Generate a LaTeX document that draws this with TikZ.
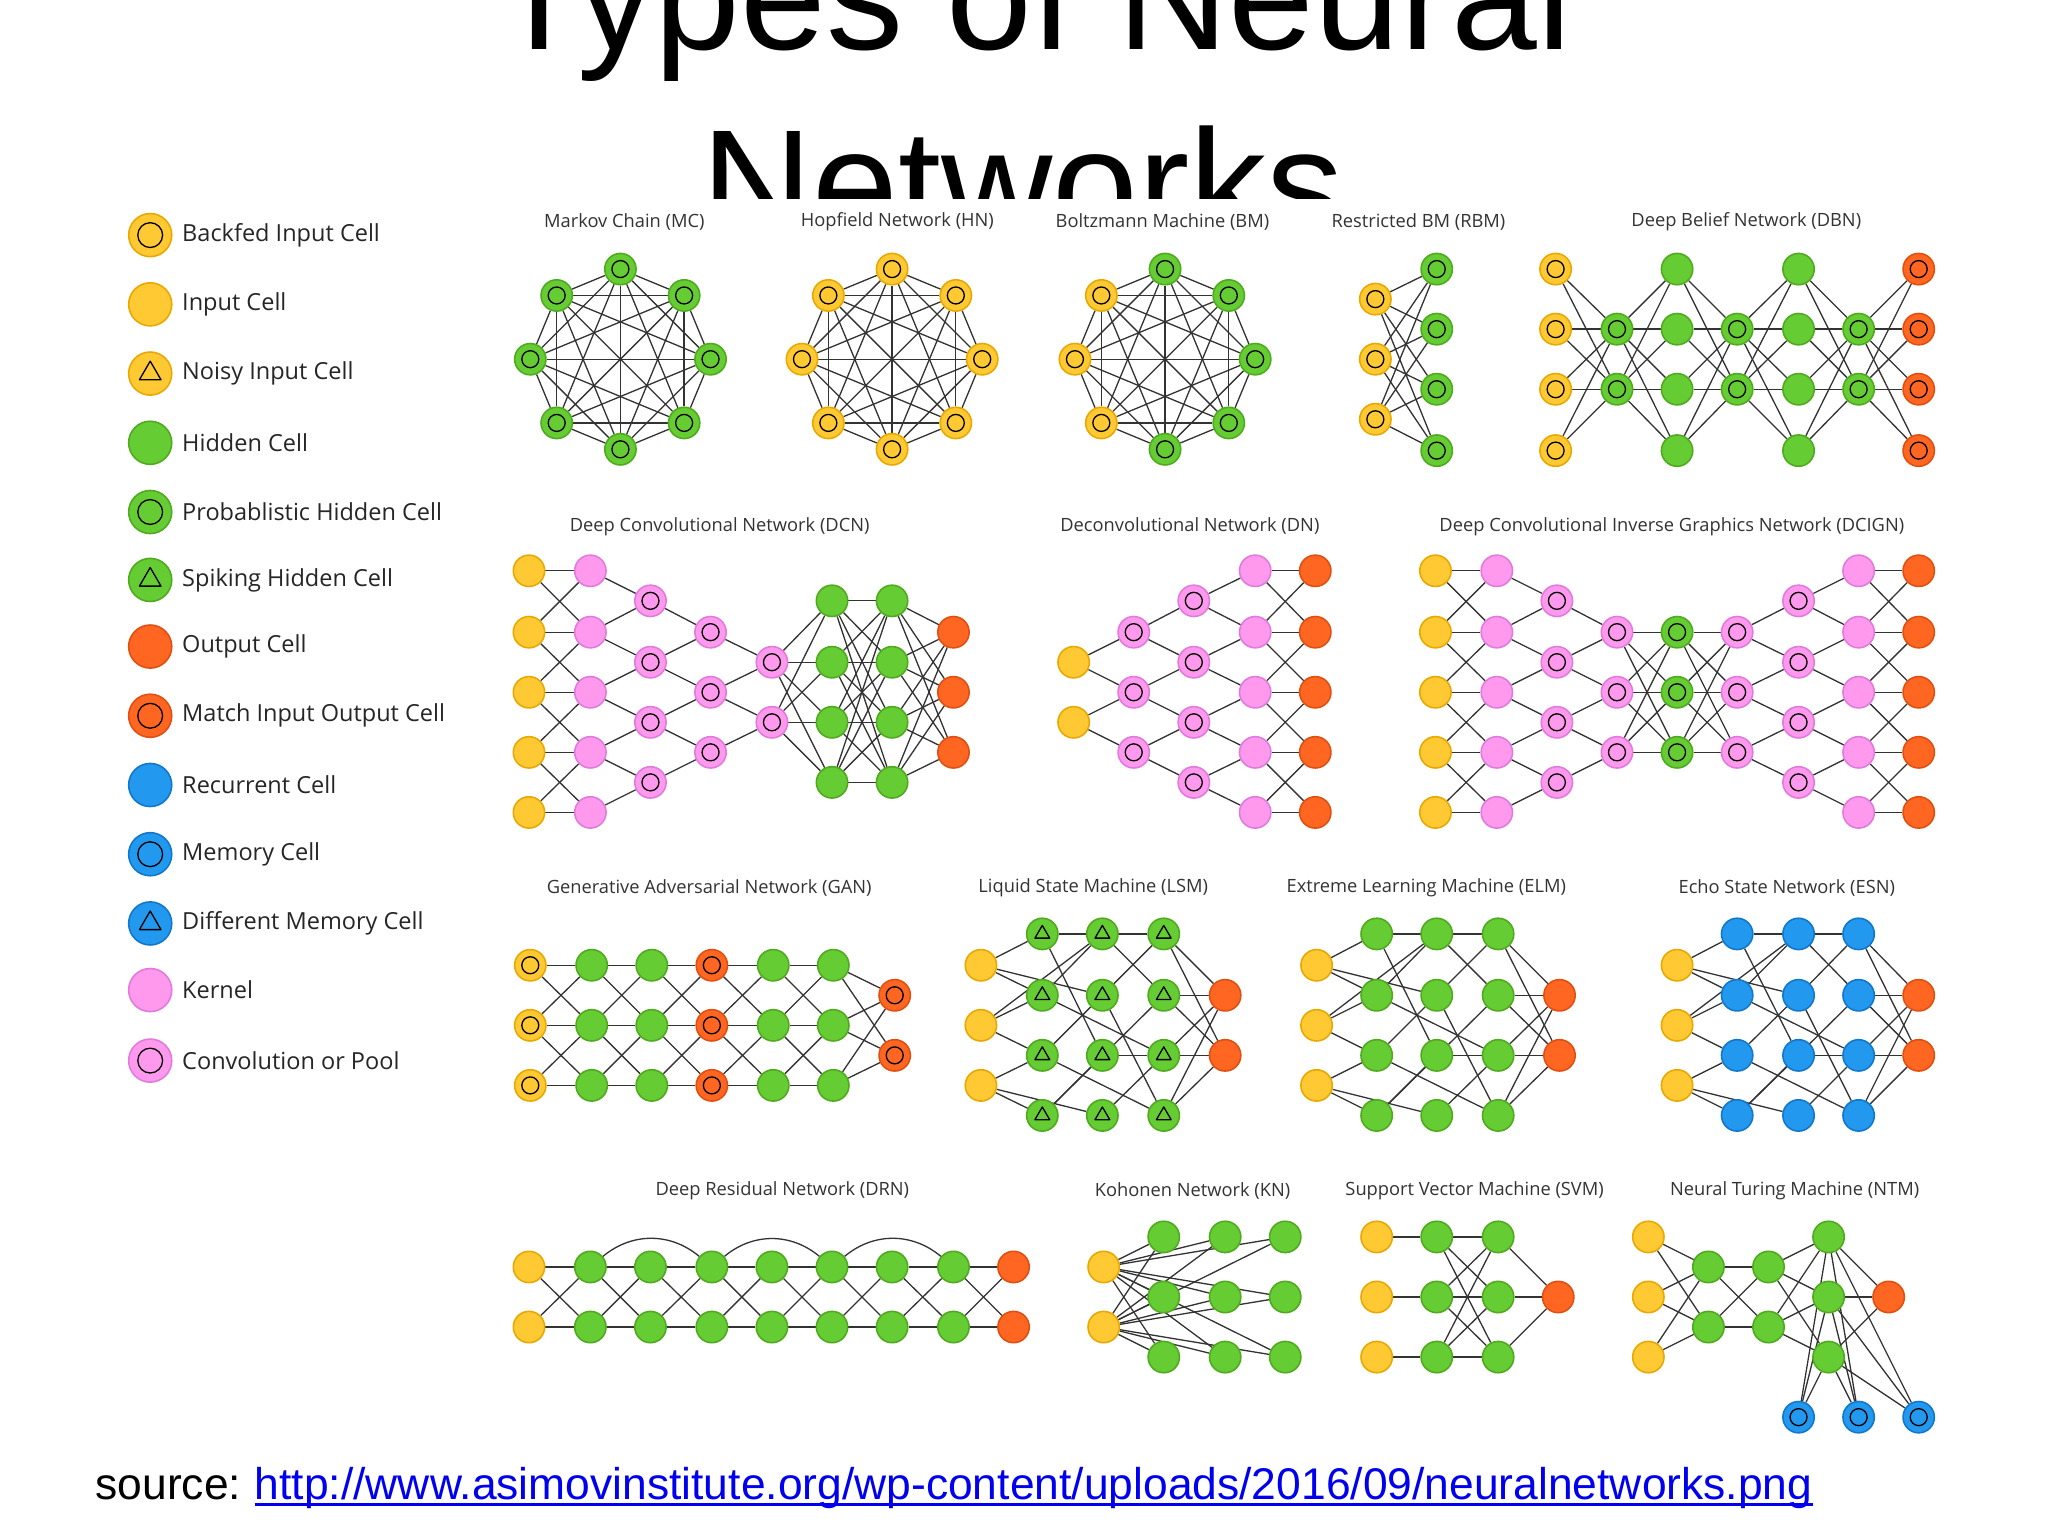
\documentclass[tikz,border=0pt]{standalone}
\usepackage{fontspec}
\setmainfont{Open Sans}
\newfontfamily\arialf{Liberation Sans}
\begin{document}
\pgfdeclarelayer{bg}\pgfsetlayers{bg,main}
\definecolor{cy}{HTML}{FFC933}\definecolor{cyd}{HTML}{E8A800}
\definecolor{cg}{HTML}{66CC33}\definecolor{cgd}{HTML}{4FAA1E}
\definecolor{co}{HTML}{FF6622}\definecolor{cod}{HTML}{E04F10}
\definecolor{cb}{HTML}{2299EE}\definecolor{cbd}{HTML}{1177CC}
\definecolor{cp}{HTML}{FF99EE}\definecolor{cpd}{HTML}{E07ADD}
\definecolor{edgec}{HTML}{333333}
\definecolor{linkc}{HTML}{0000EE}
\def\innr{6.5}
\gdef\gEdges{}
\tikzset{
 cell/.style={circle,inner sep=0,minimum size=24pt,line width=1.2pt},
 edge/.style={draw=edgec,line width=1pt},
 ring/.style={path picture={\draw[black,line width=1pt] (path picture bounding box.center) circle[radius=\innr pt];}},
 tri/.style={path picture={\draw[black,line width=1pt,line join=round] (path picture bounding box.center) +(0,-\innr) -- +({0.87*\innr},{0.5*\innr}) -- +({-0.87*\innr},{0.5*\innr}) -- cycle;}},
 inp/.style={fill=cy,draw=cyd}, bf/.style={inp,ring}, noisy/.style={inp,tri},
 hid/.style={fill=cg,draw=cgd}, prob/.style={hid,ring}, spk/.style={hid,tri},
 oc/.style={fill=co,draw=cod}, moc/.style={oc,ring},
 rec/.style={fill=cb,draw=cbd}, mem/.style={rec,ring}, dmem/.style={rec,tri},
 ker/.style={fill=cp,draw=cpd}, conv/.style={ker,ring},
 ttl/.style={font=\fontsize{14}{17}\selectfont,text=black!80},
 leg/.style={font=\fontsize{18}{22}\selectfont,text=black!85,anchor=west}
}
\newcommand\addE[2]{\xdef\gEdges{\unexpanded\expandafter{\gEdges}\noexpand\draw[edge] (#1)--(#2);}}
\newcommand\col[5]{\foreach \yy [count=\k] in {#4}{\node[cell,#5] (#1-#2-\k) at (#3,\yy) {}; \xdef\lastk{\k}}\expandafter\xdef\csname n#1#2\endcsname{\lastk}}
\newcommand\conn[3]{\pgfpointdiff{\pgfpointanchor{#1}{center}}{\pgfpointanchor{#2}{center}}\pgfgetlastxy{\mdx}{\mdy}\pgfmathparse{abs(\mdy)<#3?1:0}\ifdim\pgfmathresult pt>0.5pt \addE{#1}{#2}\fi}
\newcommand\link[4]{\edef\na{\csname n#1#2\endcsname}\edef\nb{\csname n#1#3\endcsname}\foreach \a in {1,...,\na}{\foreach \b in {1,...,\nb}{\conn{#1-#2-\a}{#1-#3-\b}{#4}}}}
\newcommand\ringnet[4]{\foreach \s [count=\k] in {#4}{\node[cell,\s] (#1-\k) at ({#2+69*cos(90-45*(\k-1))},{#3-69*sin(90-45*(\k-1))}) {};}
 \foreach \a in {1,...,8}{\foreach \b in {1,...,8}{\ifnum\a<\b \addE{#1-\a}{#1-\b}\fi}}}
\newcommand\rlinks[1]{\foreach \qi/\qa/\qj/\qb in {1/1/2/1,1/1/2/2,1/1/3/2,1/2/2/2,1/2/2/3,1/2/3/1,1/3/2/3,1/3/2/4,1/3/3/4,2/1/3/3,2/1/4/1,2/2/3/1,2/2/4/3,2/3/3/2,2/3/4/4,2/4/3/3,2/4/4/2,3/1/4/2,3/2/4/1,3/2/4/4,3/3/4/3,3/4/4/3,4/1/5/1,4/1/5/2,4/2/5/1,4/2/5/2,4/3/5/1,4/3/5/2,4/4/5/1,4/4/5/2}{\addE{#1-\qi-\qa}{#1-\qj-\qb}}}
\begin{tikzpicture}[x=1pt,y=-1pt]
\useasboundingbox (0,0) rectangle (1568,1176);
% legend
\begin{scope}\def\innr{9.5}
\foreach \s/\t [count=\k] in {bf/Backfed Input Cell,inp/Input Cell,noisy/Noisy Input Cell,hid/Hidden Cell,prob/Probablistic Hidden Cell,spk/Spiking Hidden Cell,oc/Output Cell,moc/Match Input Output Cell,rec/Recurrent Cell,mem/Memory Cell,dmem/Different Memory Cell,ker/Kernel,conv/Convolution or Pool}{
 \pgfmathsetmacro\ly{{180,233,286,339,392,444,495,548,601,654,707,758,812}[\k-1]}
 \node[cell,minimum size=33pt,\s] (lg\k) at (115,\ly) {};
 \node[leg] (lt\k) at (136,\ly) {\t};}
\end{scope}
% row 1
\node[ttl] (lmc) at (478,170) {Markov Chain (MC)};
\ringnet{mc}{475}{275}{prob,prob,prob,prob,prob,prob,prob,prob}
\node[ttl] (lhn) at (687,170) {Hopfield Network (HN)};
\ringnet{hn}{683}{275}{bf,bf,bf,bf,bf,bf,bf,bf}
\node[ttl] (lbm) at (890,170) {Boltzmann Machine (BM)};
\ringnet{bm}{892}{275}{prob,prob,prob,prob,prob,bf,bf,bf}
\node[ttl] (lrbm) at (1086,170) {Restricted BM (RBM)};
\col{rbm}{1}{1053}{229,275,321}{bf}\col{rbm}{2}{1100}{206,252,298,345}{prob}\link{rbm}{1}{2}{1000}
\node[ttl] (ldbn) at (1337,170) {Deep Belief Network (DBN)};
\col{dbn}{1}{1191}{206,252,298,345}{bf}\col{dbn}{2}{1238}{252,298}{prob}\col{dbn}{3}{1284}{206,252,298,345}{hid}
\col{dbn}{4}{1330}{252,298}{prob}\col{dbn}{5}{1377}{206,252,298,345}{hid}\col{dbn}{6}{1423}{252,298}{prob}\col{dbn}{7}{1469}{206,252,298,345}{moc}
\foreach \i/\j in {1/2,2/3,3/4,4/5,5/6,6/7}{\link{dbn}{\i}{\j}{1000}}
% row 2
\node[ttl] (ldcn) at (551,403) {Deep Convolutional Network (DCN)};
\col{dcn}{1}{405}{437,484,530,576,622}{inp}\col{dcn}{2}{452}{437,484,530,576,622}{ker}
\col{dcn}{3}{498}{460,507,553,599}{conv}\col{dcn}{4}{544}{484,530,576}{conv}\col{dcn}{5}{591}{507,553}{conv}
\col{dcn}{6}{637}{460,507,553,599}{hid}\col{dcn}{7}{683}{460,507,553,599}{hid}\col{dcn}{8}{730}{484,530,576}{oc}
\link{dcn}{1}{2}{50}\link{dcn}{2}{3}{30}\link{dcn}{3}{4}{30}\link{dcn}{4}{5}{30}\link{dcn}{5}{6}{1000}\link{dcn}{6}{7}{1000}\link{dcn}{7}{8}{1000}
\node[ttl] (ldn) at (911,403) {Deconvolutional Network (DN)};
\col{dn}{1}{822}{507,553}{inp}\col{dn}{2}{868}{484,530,576}{conv}\col{dn}{3}{914}{460,507,553,599}{conv}
\col{dn}{4}{961}{437,484,530,576,622}{ker}\col{dn}{5}{1007}{437,484,530,576,622}{oc}
\link{dn}{1}{2}{30}\link{dn}{2}{3}{30}\link{dn}{3}{4}{30}\link{dn}{4}{5}{50}
\node[ttl] (ldci) at (1280,403) {Deep Convolutional Inverse Graphics Network (DCIGN)};
\col{dc}{1}{1099}{437,484,530,576,622}{inp}\col{dc}{2}{1146}{437,484,530,576,622}{ker}
\col{dc}{3}{1192}{460,507,553,599}{conv}\col{dc}{4}{1238}{484,530,576}{conv}\col{dc}{5}{1284}{484,530,576}{prob}
\col{dc}{6}{1330}{484,530,576}{conv}\col{dc}{7}{1377}{460,507,553,599}{conv}
\col{dc}{8}{1423}{437,484,530,576,622}{ker}\col{dc}{9}{1469}{437,484,530,576,622}{oc}
\link{dc}{1}{2}{50}\link{dc}{2}{3}{30}\link{dc}{3}{4}{30}\link{dc}{4}{5}{1000}\link{dc}{5}{6}{1000}\link{dc}{6}{7}{30}\link{dc}{7}{8}{30}\link{dc}{8}{9}{50}
% row 3
\node[ttl] (lgan) at (543,680) {Generative Adversarial Network (GAN)};
\col{gan}{1}{406}{739,785,831}{bf}\col{gan}{2}{453}{739,785,831}{hid}\col{gan}{3}{499}{739,785,831}{hid}
\col{gan}{4}{545}{739,785,831}{moc}\col{gan}{5}{592}{739,785,831}{hid}\col{gan}{6}{638}{739,785,831}{hid}\col{gan}{7}{685}{762,808}{moc}
\foreach \i/\j in {1/2,2/3,3/4,4/5,5/6}{\link{gan}{\i}{\j}{50}}\link{gan}{6}{7}{1000}
\node[ttl] (llsm) at (837,680) {Liquid State Machine (LSM)};
\col{lsm}{1}{751}{739,785,831}{inp}\col{lsm}{2}{798}{715,762,808,854}{spk}\col{lsm}{3}{844}{715,762,808,854}{spk}\col{lsm}{4}{891}{715,762,808,854}{spk}\col{lsm}{5}{938}{762,808}{oc}
\rlinks{lsm}
\node[ttl] (lelm) at (1092,680) {Extreme Learning Machine (ELM)};
\col{elm}{1}{1008}{739,785,831}{inp}\col{elm}{2}{1054}{715,762,808,854}{hid}\col{elm}{3}{1100}{715,762,808,854}{hid}\col{elm}{4}{1147}{715,762,808,854}{hid}\col{elm}{5}{1194}{762,808}{oc}
\rlinks{elm}
\node[ttl] (lesn) at (1368,680) {Echo State Network (ESN)};
\col{esn}{1}{1284}{739,785,831}{inp}\col{esn}{2}{1330}{715,762,808,854}{rec}\col{esn}{3}{1377}{715,762,808,854}{rec}\col{esn}{4}{1423}{715,762,808,854}{rec}\col{esn}{5}{1469}{762,808}{oc}
\rlinks{esn}
% row 4
\node[ttl] (ldrn) at (599,912) {Deep Residual Network (DRN)};
\col{drn}{1}{405}{970,1016}{inp}
\foreach \c/\x in {2/452,3/498,4/545,5/591,6/637,7/683,8/730}{\col{drn}{\c}{\x}{970,1016}{hid}}
\col{drn}{9}{776}{970,1016}{oc}
\foreach \i/\j in {1/2,2/3,3/4,4/5,5/6,6/7,7/8,8/9}{\link{drn}{\i}{\j}{1000}}
\node[ttl] (lkn) at (913,912) {Kohonen Network (KN)};
\col{kn}{1}{845}{970,1016}{inp}\col{kn}{2}{891}{947,993,1039}{hid}\col{kn}{3}{938}{947,993,1039}{hid}\col{kn}{4}{984}{947,993,1039}{hid}
\foreach \i in {2,3,4}{\link{kn}{1}{\i}{1000}}
\node[ttl] (lsvm) at (1129,912) {Support Vector Machine (SVM)};
\col{svm}{1}{1054}{947,993,1039}{inp}\col{svm}{2}{1100}{947,993,1039}{hid}\col{svm}{3}{1147}{947,993,1039}{hid}\col{svm}{4}{1193}{993}{oc}
\link{svm}{1}{2}{5}\link{svm}{2}{3}{1000}\link{svm}{3}{4}{1000}
\node[ttl] (lntm) at (1374,912) {Neural Turing Machine (NTM)};
\col{ntm}{1}{1262}{947,993,1039}{inp}\col{ntm}{2}{1308}{970,1016}{hid}\col{ntm}{3}{1354}{970,1016}{hid}\col{ntm}{4}{1400}{947,993,1039}{hid}\col{ntm}{5}{1446}{993}{oc}
\col{ntm}{6}{1377}{1085}{mem}\col{ntm}{7}{1423}{1085}{mem}\col{ntm}{8}{1469}{1085}{mem}
\link{ntm}{1}{2}{1000}\link{ntm}{2}{3}{1000}\link{ntm}{3}{4}{1000}\link{ntm}{4}{5}{1000}\foreach \i in {6,7,8}{\link{ntm}{4}{\i}{1000}}
% background: title, cover, edges
\begin{pgfonlayer}{bg}
\fill[white] (0,0) rectangle (1568,1176);
\node[anchor=base,font=\arialf\fontsize{118}{130}\selectfont,inner sep=0] (t1) at (790,38) {Types of Neural};
\node[anchor=base,font=\arialf\fontsize{118}{130}\selectfont,inner sep=0] (t2) at (783,182) {Networks};
\fill[white] (0,152) rectangle (1568,1105);
\gEdges
\draw[edge] (drn-2-1) to[bend left=40] (drn-4-1);
\draw[edge] (drn-4-1) to[bend left=40] (drn-6-1);
\draw[edge] (drn-6-1) to[bend left=40] (drn-8-1);
\end{pgfonlayer}
% source
\node[anchor=base west,inner sep=0,font=\arialf\fontsize{34}{40}\selectfont] (src1) at (73,1148) {source:};
\node[anchor=base west,inner sep=0,font=\arialf\fontsize{34}{40}\selectfont,text=linkc] (src2) at ([xshift=10pt]src1.base east) {http://www.asimovinstitute.org/wp-content/uploads/2016/09/neuralnetworks.png};
\draw[linkc,line width=2pt] ([yshift=-4pt]src2.base west) -- ([yshift=-4pt]src2.base east);
\end{tikzpicture}
\end{document}
